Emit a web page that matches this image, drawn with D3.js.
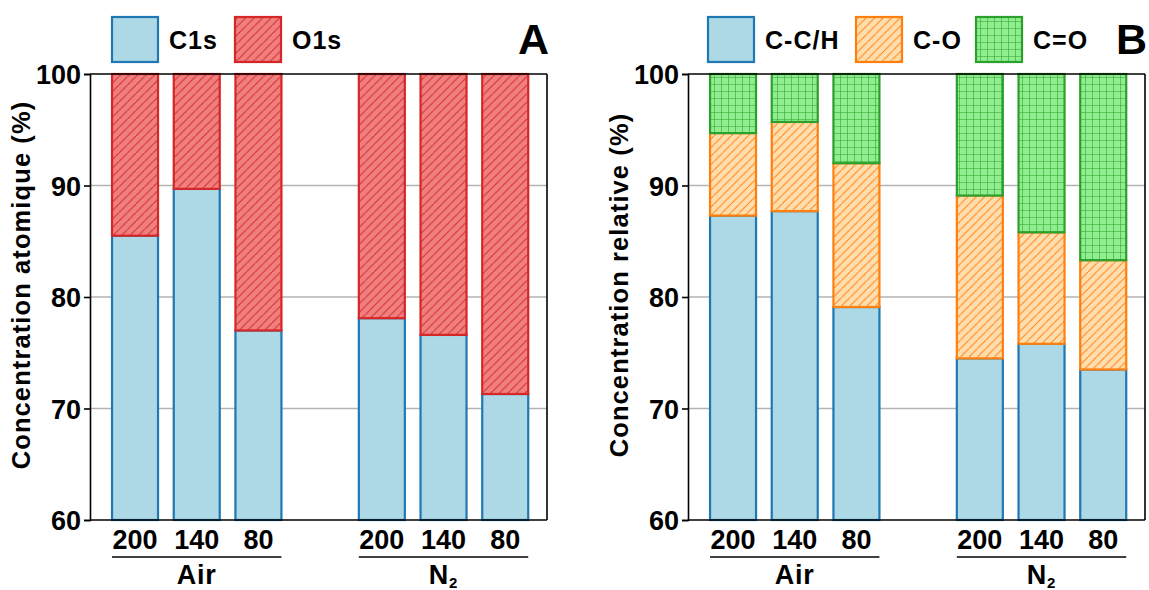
<!DOCTYPE html>
<html>
<head>
<meta charset="utf-8">
<script src="https://cdn.jsdelivr.net/npm/d3@7"></script>
<style>
  html, body { margin: 0; padding: 0; background: #fff; }
  svg { display: block; }
  text { font-family: "Liberation Sans", Arial, sans-serif; font-weight: bold; fill: #000; }
</style>
</head>
<body>
<svg id="chart" width="1149" height="590"></svg>
<script>
// ---- Data ----
const categories = ["200", "140", "80", "200", "140", "80"];
const groups = ["Air", "N2"];
const groupMembers = [[0, 1, 2], [3, 4, 5]];
const yTicks = [60, 70, 80, 90, 100];

// Panel A: atomic concentration (%)
const c1s = [85.5, 89.7, 77.0, 78.1, 76.6, 71.3];
const o1s = [14.5, 10.3, 23.0, 21.9, 23.4, 28.7];

// Panel B: relative concentration (%)
const ccH = [87.3, 87.7, 79.1, 74.5, 75.8, 73.5];
const cO  = [7.4, 8.0, 12.9, 14.6, 10.0, 9.8];
const cdO = [5.3, 4.3, 8.0, 10.9, 14.2, 16.7];

// ---- Layout ----
const slots = [0, 1, 2, 4, 5, 6];
const svg = d3.select("#chart");
const defs = svg.append("defs");

function diag(id, bg, line) {
  const s = 8.5;
  const p = defs.append("pattern").attr("id", id).attr("patternUnits", "userSpaceOnUse")
    .attr("width", s).attr("height", s);
  p.append("rect").attr("width", s).attr("height", s).attr("fill", bg);
  p.append("path").attr("d", `M-1,${s + 1} L${s + 1},-1 M-2,1 L1,-2 M${s - 1},${s + 2} L${s + 2},${s - 1}`)
    .attr("stroke", line).attr("stroke-width", 1).attr("fill", "none");
}
diag("hRed", "#f08080", "#d62728");
diag("hOrange", "#ffdead", "#ff7f0e");
(function () {
  const s = 7;
  const p = defs.append("pattern").attr("id", "hGrid").attr("patternUnits", "userSpaceOnUse")
    .attr("width", s).attr("height", s);
  p.append("rect").attr("width", s).attr("height", s).attr("fill", "#90ee90");
  p.append("path").attr("d", `M0,0 H${s} M0,0 V${s}`)
    .attr("stroke", "#2ca02c").attr("stroke-width", 1.1).attr("fill", "none");
})();

function panel(opts) {
  const { left, right, top, bottom, series, ylabel, letter, legend } = opts;
  const g = svg.append("g");
  const y = d3.scaleLinear().domain([60, 100]).range([bottom, top]).clamp(true);
  const x = d3.scaleLinear().domain([-0.73, 6.677]).range([left, right]);
  const bw = 46;

  // gridlines
  g.append("g").selectAll("line").data(yTicks.filter(t => t > 60 && t < 100)).join("line")
    .attr("x1", left).attr("x2", right).attr("y1", d => y(d)).attr("y2", d => y(d))
    .attr("stroke", "#b3b3b3").attr("stroke-width", 1.5);

  // stacked bars
  const rows = categories.map((c, i) => {
    const o = { i };
    series.forEach(s => { o[s.key] = s.values[i]; });
    return o;
  });
  const stack = d3.stack().keys(series.map(s => s.key))(rows);
  stack.forEach((layer, li) => {
    const s = series[li];
    g.append("g").selectAll("rect").data(layer).join("rect")
      .attr("x", d => x(slots[d.data.i]) - bw / 2)
      .attr("width", bw)
      .attr("y", d => y(d[1]))
      .attr("height", d => y(d[0]) - y(d[1]))
      .attr("fill", s.fill).attr("stroke", s.stroke).attr("stroke-width", 2.2);
  });

  // frame
  const frame = g.append("g").attr("fill", "none").attr("stroke", "#000").attr("stroke-width", 1.6);
  frame.append("line").attr("x1", left).attr("x2", right).attr("y1", top).attr("y2", top);
  frame.append("line").attr("x1", right).attr("x2", right).attr("y1", top).attr("y2", bottom);
  frame.append("line").attr("x1", left).attr("x2", right).attr("y1", bottom).attr("y2", bottom);

  // y axis
  const ya = g.append("g").attr("transform", `translate(${left},0)`)
    .call(d3.axisLeft(y).tickValues(yTicks).tickSize(6).tickPadding(3).tickFormat(d3.format("d")));
  ya.select(".domain").attr("stroke", "#000").attr("stroke-width", 1.6);
  ya.selectAll(".tick line").attr("stroke", "#000").attr("stroke-width", 1.6);
  ya.selectAll(".tick text").style("font-size", "27px").style("font-family", "'Liberation Sans', Arial, sans-serif")
    .style("font-weight", "bold").attr("fill", "#000").attr("dy", "0.36em");

  // y label
  g.append("text")
    .attr("transform", `translate(${left - 69},${(top + bottom) / 2 - 12}) rotate(-90)`)
    .attr("text-anchor", "middle").attr("dominant-baseline", "central")
    .style("font-size", "25.5px").style("letter-spacing", "1.1px").text(ylabel);

  // x tick labels
  g.append("g").selectAll("text").data(categories).join("text")
    .attr("x", (d, i) => x(slots[i])).attr("y", bottom + 29)
    .attr("text-anchor", "middle").style("font-size", "27px").text(d => d);

  // group lines and labels
  groupMembers.forEach((m, gi) => {
    const x0 = x(slots[m[0]]) - bw / 2, x1 = x(slots[m[m.length - 1]]) + bw / 2;
    g.append("line").attr("x1", x0).attr("x2", x1).attr("y1", bottom + 37).attr("y2", bottom + 37)
      .attr("stroke", "#000").attr("stroke-width", 1.6);
    const t = g.append("text").attr("x", (x0 + x1) / 2).attr("y", bottom + 64)
      .attr("text-anchor", "middle").style("font-size", "27px").style("letter-spacing", "0.8px");
    if (groups[gi] === "N2") {
      t.append("tspan").text("N");
      t.append("tspan").attr("dy", 4).style("font-size", "15px").text("2");
    } else {
      t.text(groups[gi]);
    }
  });

  // panel letter
  g.append("text").attr("x", right + 2).attr("y", 54).attr("text-anchor", "end")
    .style("font-size", "43px").text(letter);

  // legend
  legend.forEach(l => {
    const s = series.find(v => v.key === l.key);
    g.append("rect").attr("x", l.x).attr("y", 17).attr("width", 46).attr("height", 45)
      .attr("fill", s.fill).attr("stroke", s.stroke).attr("stroke-width", 2.2);
    g.append("text").attr("x", l.x + 57).attr("y", 49).style("font-size", "25px")
      .style("letter-spacing", "1px").text(s.key);
  });
}

panel({
  left: 90, right: 547, top: 74, bottom: 520,
  ylabel: "Concentration atomique (%)", letter: "A",
  series: [
    { key: "C1s", values: c1s, fill: "#add8e6", stroke: "#1f77b4" },
    { key: "O1s", values: o1s, fill: "url(#hRed)", stroke: "#d62728" }
  ],
  legend: [{ key: "C1s", x: 112 }, { key: "O1s", x: 235 }]
});

panel({
  left: 688, right: 1145, top: 74, bottom: 520,
  ylabel: "Concentration relative (%)", letter: "B",
  series: [
    { key: "C-C/H", values: ccH, fill: "#add8e6", stroke: "#1f77b4" },
    { key: "C-O", values: cO, fill: "url(#hOrange)", stroke: "#ff7f0e" },
    { key: "C=O", values: cdO, fill: "url(#hGrid)", stroke: "#2ca02c" }
  ],
  legend: [{ key: "C-C/H", x: 708 }, { key: "C-O", x: 856 }, { key: "C=O", x: 976 }]
});
</script>
</body>
</html>
